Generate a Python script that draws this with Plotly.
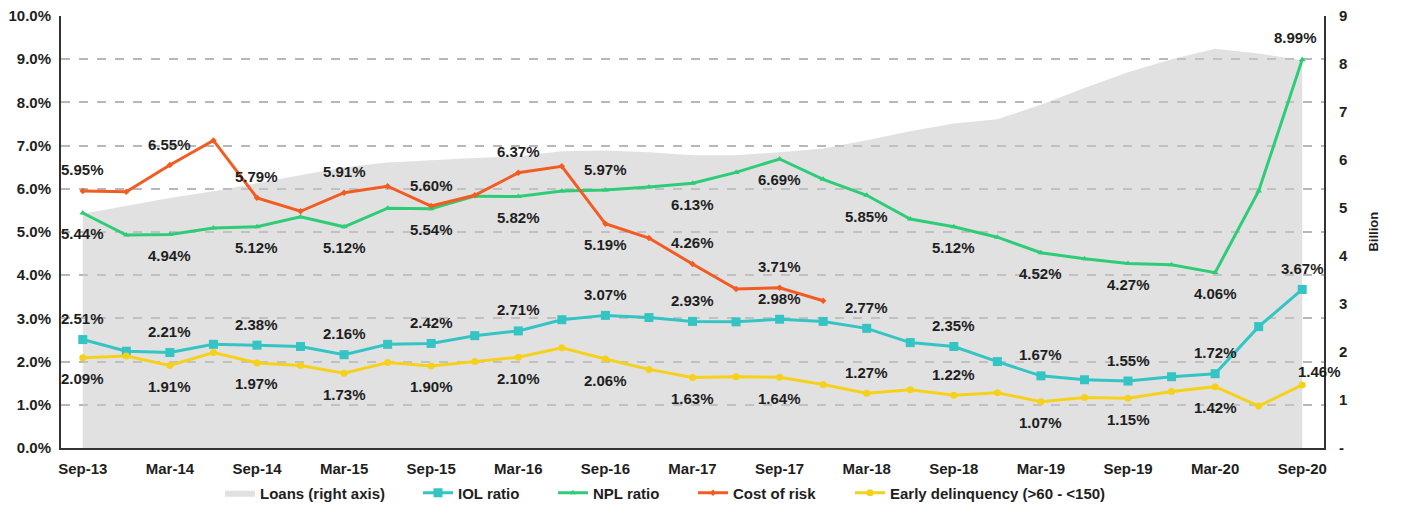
import plotly.graph_objects as go

quarters = ["Sep-13","Dec-13","Mar-14","Jun-14","Sep-14","Dec-14","Mar-15","Jun-15","Sep-15","Dec-15",
            "Mar-16","Jun-16","Sep-16","Dec-16","Mar-17","Jun-17","Sep-17","Dec-17","Mar-18","Jun-18",
            "Sep-18","Dec-18","Mar-19","Jun-19","Sep-19","Dec-19","Mar-20","Jun-20","Sep-20"]
tick_labels = quarters[::2]

loans = [4.88,5.04,5.21,5.35,5.52,5.68,5.85,5.95,6.00,6.04,6.08,6.18,6.20,6.16,6.10,6.10,6.16,6.24,6.41,6.60,
         6.76,6.85,7.15,7.50,7.83,8.10,8.32,8.22,8.08]
iol = [2.51,2.24,2.21,2.40,2.38,2.35,2.16,2.40,2.42,2.60,2.71,2.97,3.07,3.02,2.93,2.92,2.98,2.93,2.77,2.44,
       2.35,2.00,1.67,1.58,1.55,1.65,1.72,2.81,3.67]
npl = [5.44,4.93,4.94,5.09,5.12,5.35,5.12,5.55,5.54,5.83,5.82,5.95,5.97,6.04,6.13,6.38,6.69,6.22,5.85,5.30,
       5.12,4.88,4.52,4.38,4.27,4.24,4.06,5.95,8.99]
cost_of_risk = [5.95,5.93,6.55,7.12,5.79,5.48,5.91,6.06,5.60,5.85,6.37,6.52,5.19,4.86,4.26,3.68,3.71,3.41]
early_delinq = [2.09,2.13,1.91,2.21,1.97,1.91,1.73,1.98,1.90,2.00,2.10,2.32,2.06,1.82,1.63,1.65,1.64,1.47,1.27,1.35,
                1.22,1.28,1.07,1.17,1.15,1.31,1.42,0.97,1.46]

# label placement (+1 above, -1 below)
label_idx = list(range(0, 29, 2))
iol_dir = [1]*15
npl_dir = [-1,-1,-1,-1,-1,-1,1,-1,-1,-1,-1,-1,-1,-1,1]
cor_idx = [0,2,4,6,8,10,12,14,16]
cor_dir = [1,1,1,1,1,1,-1,1,1]
early_dir = [-1]*9 + [1,1,-1,-1,-1,1]

C_LOANS = "rgba(200,200,200,0.55)"
C_IOL = "#35c4c4"
C_NPL = "#2fcc78"
C_COR = "#f25c22"
C_EARLY = "#f6d11c"
FONT = "Liberation Sans, Arial, sans-serif"
TXT = "#1e1e1e"

# page body has an 8px default margin
OFF = 8
W, H = 1401 - OFF, 509 - OFF

fig = go.Figure()
fig.add_trace(go.Scatter(x=quarters, y=loans, name="Loans (right axis)", fill="tozeroy", legend="legend",
                         fillcolor=C_LOANS, line=dict(width=0, color=C_LOANS), mode="lines", yaxis="y"))
fig.add_trace(go.Scatter(x=quarters, y=iol, name="IOL ratio", mode="lines+markers", yaxis="y2", legend="legend2",
                         line=dict(color=C_IOL, width=3), marker=dict(symbol="square", size=9, color=C_IOL)))
fig.add_trace(go.Scatter(x=quarters, y=npl, name="NPL ratio", mode="lines+markers", yaxis="y2", legend="legend3",
                         line=dict(color=C_NPL, width=3), marker=dict(symbol="triangle-up", size=6, color=C_NPL)))
fig.add_trace(go.Scatter(x=quarters[:len(cost_of_risk)], y=cost_of_risk, name="Cost of risk", mode="lines+markers",
                         yaxis="y2", legend="legend4",
                         line=dict(color=C_COR, width=3), marker=dict(symbol="diamond", size=5, color=C_COR)))
fig.add_trace(go.Scatter(x=quarters, y=early_delinq, name="Early delinquency (>60 - <150)", mode="lines+markers",
                         yaxis="y2", legend="legend5",
                         line=dict(color=C_EARLY, width=3), marker=dict(symbol="circle", size=7, color=C_EARLY)))

annotations = []
def add_labels(vals, idxs, dirs, last_shift=(0, 21)):
    for i, d in zip(idxs, dirs):
        xs, ys = (last_shift[0], last_shift[1] * d) if i == 28 else (0, 21 * d)
        annotations.append(dict(x=quarters[i], y=vals[i], xref="x", yref="y2", text=f"{vals[i]:.2f}%",
                                showarrow=False, yshift=ys, xshift=xs,
                                font=dict(family=FONT, size=15, color=TXT, weight="bold")))

add_labels(npl, label_idx, npl_dir, (-7, 22))
add_labels(cost_of_risk, cor_idx, cor_dir)
add_labels(iol, label_idx, iol_dir)
add_labels(early_delinq, label_idx, early_dir, (17, 13))

annotations.append(dict(x=1.046, y=0.5, xref="paper", yref="paper", text="Billion", textangle=-90,
                        showarrow=False, font=dict(family=FONT, size=13, color=TXT, weight="bold")))

legend_font = dict(family=FONT, size=15, color=TXT, weight="bold")
legend_text_start = [260, 458, 593, 733, 890]
legends = {}
for k, tx in enumerate(legend_text_start):
    key = "legend" if k == 0 else f"legend{k+1}"
    legends[key] = dict(orientation="h", xref="container", yref="container", x=(tx - 40 - OFF) / W,
                        xanchor="left", y=1 - (493 - OFF) / H, yanchor="middle", font=legend_font,
                        bgcolor="rgba(0,0,0,0)", borderwidth=0)

fig.update_layout(
    width=W, height=H,
    margin=dict(l=61 - OFF, r=77, t=16 - OFF, b=61, autoexpand=False),
    paper_bgcolor="white", plot_bgcolor="white",
    font=dict(family=FONT, size=14, color=TXT),
    showlegend=True,
    xaxis=dict(type="category", range=[-0.5, 28.5], tickmode="array", tickvals=tick_labels, ticktext=tick_labels,
               showgrid=False, showline=True, linecolor="#333333", linewidth=2, ticks="", automargin=False,
               ticklabelstandoff=6, ticklabeloverflow="allow",
               tickfont=dict(family=FONT, size=15, color=TXT, weight="bold")),
    yaxis=dict(side="right", range=[0, 9], tickvals=list(range(10)), automargin=False,
               ticktext=["-"] + [str(v) for v in range(1, 10)], showgrid=False, showline=True,
               linecolor="#333333", linewidth=2, ticks="", zeroline=False, ticklabelstandoff=10,
               ticklabeloverflow="allow",
               tickfont=dict(family=FONT, size=15, color=TXT, weight="bold")),
    yaxis2=dict(overlaying="y", side="left", range=[0, 10], tickvals=list(range(11)), automargin=False,
                ticktext=[f"{v:.1f}%" for v in range(11)], showgrid=True, gridcolor="#b8b8b8",
                griddash="dash", gridwidth=1.5, showline=True, linecolor="#333333", linewidth=2, ticks="",
                zeroline=False, ticklabelstandoff=5, ticklabeloverflow="allow",
                tickfont=dict(family=FONT, size=15, color=TXT, weight="bold")),
    annotations=annotations,
    **legends,
)

fig.write_html("out.html")
